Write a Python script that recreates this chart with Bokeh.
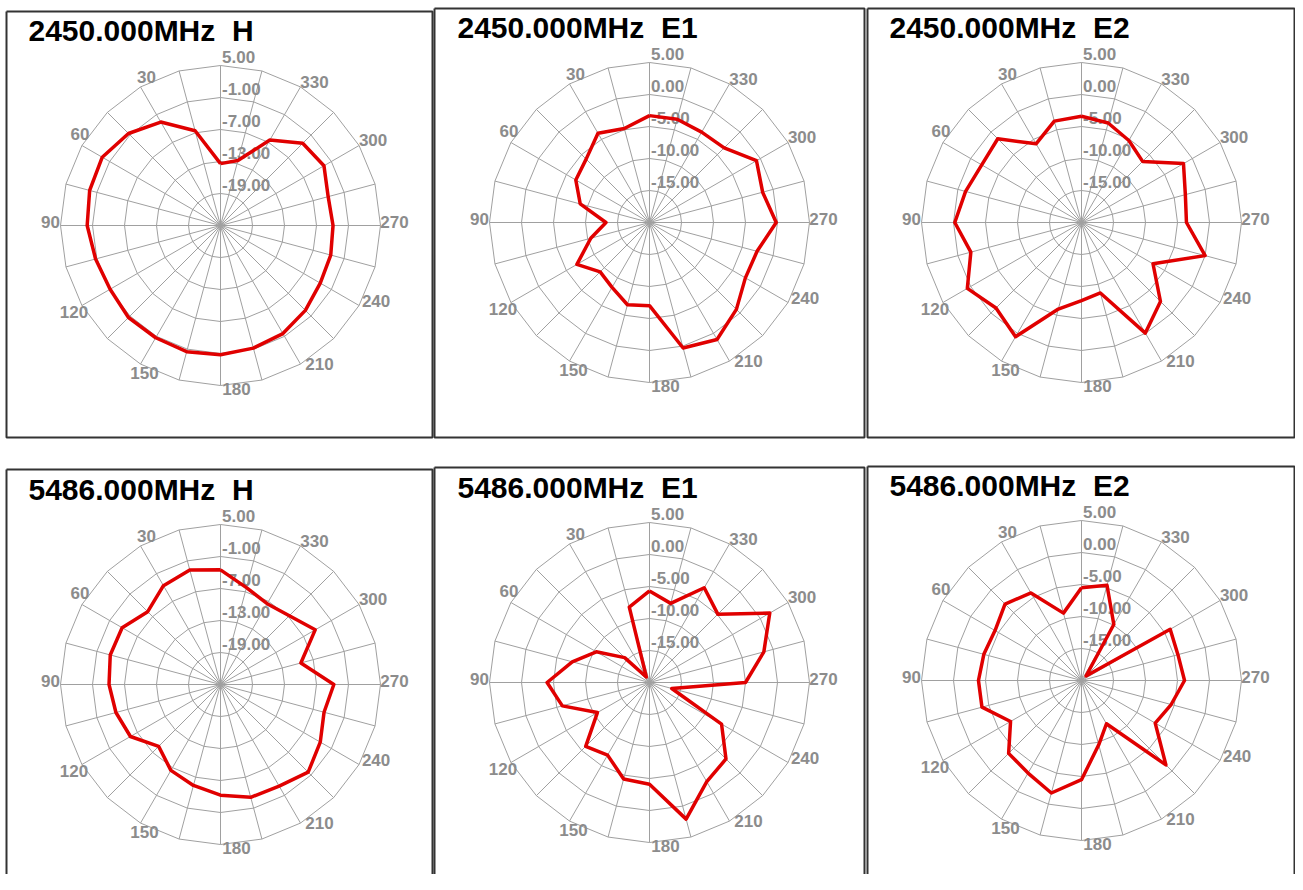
import math
from bokeh.plotting import figure
from bokeh.models import Range1d
from bokeh.core.properties import value
from bokeh.embed import file_html
from bokeh.resources import INLINE

# ---------------- data (dB, every 15 degrees, counter-clockwise from top) ----------------
angles = list(range(0, 360, 15))

h_2450 = [-13.4, -6.6, -2.6, -0.6, 0.6, 0.4, 0.0, -0.75, -1.1, -0.6, -0.7, -0.5,
          -0.75, -1.2, -1.6, -2.5, -3.4, -3.6, -3.9, -4.1, -2.6, -3.2, -6.5, -12.4]
e1_2450 = [-3.3, -4.8, -3.9, -6.0, -6.7, -8.8, -13.2, -10.5, -6.9, -9.1, -8.3, -6.7,
           -7.0, 0.3, 1.1, -0.8, -2.7, -2.6, -0.2, -1.7, -0.7, -3.5, -3.7, -3.3]
e2_2450 = [-3.4, -3.6, -5.8, -1.5, -2.0, -1.25, -0.2, -2.1, 0.6, -1.1, 0.6, -6.0,
           -7.8, -8.6, -0.05, -2.55, -7.1, 0.0, -3.6, -3.2, -1.6, -6.5, -5.2, -3.9]
h_5486 = [-3.5, -2.75, -3.6, -5.7, -3.7, -3.6, -4.1, -4.7, -5.5, -8.6, -6.4, -5.4,
          -4.25, -3.1, -3.0, -1.75, -3.4, -4.9, -3.75, -9.4, -4.5, -6.75, -7.5, -6.2]
e1_5486 = [-5.7, -7.8, -19.0, -14.5, -10.4, -7.5, -4.0, -5.9, -10.6, -5.9, -6.9, -4.4,
           -4.1, 2.1, -2.1, -3.1, -7.0, -16.4, -5.0, -1.5, 1.7, -4.9, -2.9, -7.2]
e2_5486 = [-5.5, -9.1, -4.2, -3.1, -4.4, -4.2, -3.9, -3.9, -7.2, -3.9, -3.3, -1.8,
           -4.5, -9.6, -12.2, -1.35, -6.7, -5.5, -3.9, -4.4, -4.0, -19.0, -9.9, -4.6]

freqs = ["2450.000MHz", "2450.000MHz", "2450.000MHz", "5486.000MHz", "5486.000MHz", "5486.000MHz"]
pols = ["H", "E1", "E2", "H", "E1", "E2"]
series = [h_2450, e1_2450, e2_2450, h_5486, e1_5486, e2_5486]
scale_lo = [-25, -20, -20, -25, -20, -20]
scale_hi = [5, 5, 5, 5, 5, 5]
angle_ticks = [30, 60, 90, 120, 150, 180, 210, 240, 270, 300, 330]

# ---------------- layout (picture pixel coordinates) ----------------
W, H = 1295, 874
# (left, top, right, bottom) of each panel frame
boxes = [(6, 11, 432, 437), (434, 8, 864, 437), (867, 8, 1294, 437),
         (6, 469, 432, 960), (434, 467, 864, 960), (867, 466, 1294, 960)]
box_origin = [(6, 10), (435, 7), (867, 7), (6, 469), (435, 467), (867, 465)]
R = 160.0
GRID = "#a0a0a0"
LABEL = "#8c8c8c"
FONT = value("Liberation Sans")
lab_off = {30: (6, -10), 60: (-2, -12), 90: (-10, -4), 120: (-8, 6), 150: (4, 9),
           180: (16, 3), 210: (19, 0), 240: (17, -5), 270: (14, -4), 300: (14, -6),
           330: (14, -5)}

p = figure(width=W, height=H, x_range=Range1d(0, W), y_range=Range1d(H, 0),
           output_backend="svg", toolbar_location=None, min_border=0)
p.axis.visible = False
p.grid.visible = False
p.outline_line_color = None
p.background_fill_color = "white"
p.border_fill_color = "white"


def polar(cx, cy, r, deg):
    a = math.radians(deg)
    return cx - r * math.sin(a), cy - r * math.cos(a)


for i in range(6):
    L, T, Rt, B = boxes[i]
    ox, oy = box_origin[i]
    cx, cy = ox + 214.0, oy + 215.0
    lo, hi = scale_lo[i], scale_hi[i]
    step = (hi - lo) / 5.0

    # frame
    p.line([L, Rt, Rt, L, L], [T, T, B, B, T], line_color="#333333", line_width=2)

    # rings (24-gons)
    ring_vals = [lo + step * k for k in range(1, 6)]
    xs, ys = [], []
    for v in ring_vals:
        rr = (v - lo) / (hi - lo) * R
        pts = [polar(cx, cy, rr, a) for a in list(range(0, 361, 15))]
        xs.append([q[0] for q in pts])
        ys.append([q[1] for q in pts])
    # spokes
    for a in range(0, 360, 15):
        ex, ey = polar(cx, cy, R, a)
        xs.append([cx, ex])
        ys.append([cy, ey])
    p.multi_line(xs, ys, line_color=GRID, line_width=1)

    # radial scale labels
    rl_x, rl_y, rl_t = [], [], []
    for v in ring_vals:
        rr = (v - lo) / (hi - lo) * R
        rl_x.append(cx + 1.5)
        rl_y.append(cy - rr - 9)
        rl_t.append(f"{v:.2f}")
    p.text(rl_x, rl_y, text=rl_t, text_color=LABEL, text_font=FONT, text_font_size="17px",
           text_font_style="bold", text_align="left", text_baseline="middle")

    # angle labels
    al_x, al_y, al_t = [], [], []
    for a in angle_ticks:
        ex, ey = polar(cx, cy, R, a)
        dx, dy = lab_off[a]
        al_x.append(ex + dx)
        al_y.append(ey + dy)
        al_t.append(str(a))
    p.text(al_x, al_y, text=al_t, text_color=LABEL, text_font=FONT, text_font_size="17px",
           text_font_style="bold", text_align="center", text_baseline="middle")

    # pattern curve
    vals = series[i]
    px, py = [], []
    for a, v in zip(angles + [angles[0]], vals + [vals[0]]):
        rr = (max(v, lo) - lo) / (hi - lo) * R
        qx, qy = polar(cx, cy, rr, a)
        px.append(qx)
        py.append(qy)
    p.line(px, py, line_color="#e00000", line_width=3.5, line_join="round")

    # title
    p.text([ox + 22], [oy + 20], text=[f"{freqs[i]} \u00a0{pols[i]}"], text_color="black",
           text_font=FONT, text_font_size="30px", text_font_style="bold",
           text_align="left", text_baseline="middle")

open("out.html", "w").write(file_html(p, INLINE))
